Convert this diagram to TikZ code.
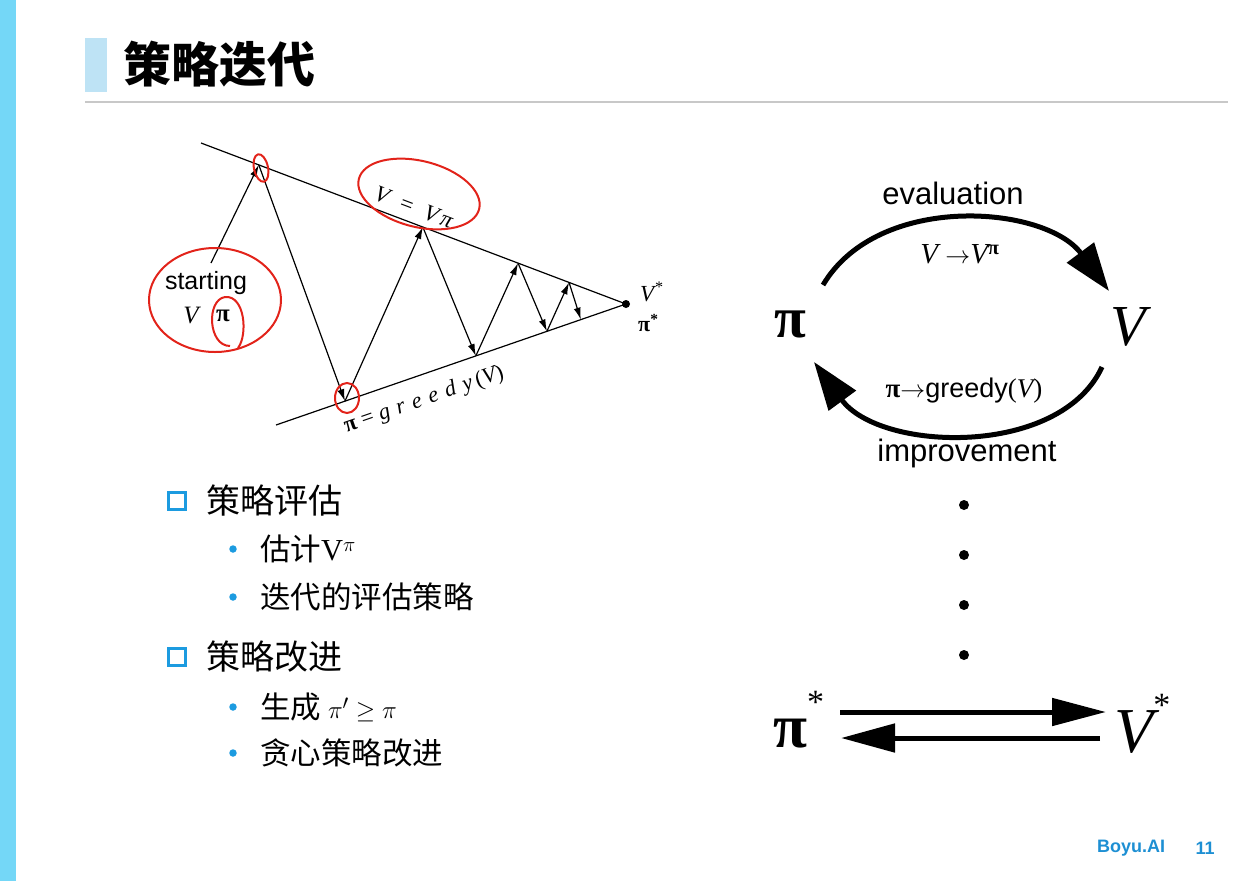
\documentclass[tikz,border=0pt]{standalone}
\usepackage{fontspec}
\setmainfont{Liberation Serif}
\setsansfont{Liberation Sans}
\newfontfamily\cjk{Noto Sans CJK SC}
\usetikzlibrary{arrows.meta,positioning,calc}
\definecolor{sidebar}{HTML}{74D7F7}
\definecolor{tab}{HTML}{BEE3F5}
\definecolor{rule}{HTML}{C8C8C8}
\definecolor{accent}{HTML}{1C9BE0}
\definecolor{brand}{HTML}{1D8FD3}
\definecolor{pen}{HTML}{E2231A}
\newcommand{\fsz}[1]{\fontsize{#1}{#1}\selectfont}
\newcommand{\bigstar}[1]{\raisebox{#1}{\upshape\mdseries\fsz{34}*}}
\tikzset{
  every node/.style={inner sep=0pt},
  heading/.style={font=\cjk\bfseries\fsz{48},anchor=west},
  item/.style={font=\cjk\fsz{34},anchor=west},
  subitem/.style={font=\cjk\fsz{30.5},anchor=west},
  boxbullet/.style={draw=accent,line width=3.5pt,minimum size=17pt,fill=white},
  dotbullet/.style={circle,fill=accent,minimum size=7.5pt},
  sanslabel/.style={font=\sffamily\fsz{31}},
  mathlabel/.style={font=\rmfamily\fsz{28}},
  greek/.style={font=\rmfamily\bfseries\fsz{58}},
  small/.style={font=\rmfamily\fsz{25}},
  guide/.style={line width=1.2pt,draw=black},
  hop/.style={guide,-{Latex[length=12pt,width=7pt]}},
  redpen/.style={draw=pen,line width=2pt},
  bigarrow/.style={line width=5pt,draw=black,-{Triangle[length=48pt,width=30pt]}},
  footer/.style={font=\sffamily\bfseries\fsz{18},text=brand}
}
\begin{document}
\begin{tikzpicture}[x=1pt,y=-1pt]
\useasboundingbox (0,0) rectangle (1250,881);
\fill[sidebar] (0,0) rectangle (16,881);
\fill[tab] (85,38) rectangle (107,92);
\node[heading] (title) at (123,64) {策略迭代};
\draw[rule,line width=1.5pt] (85,102) -- (1228,102);

\coordinate (top) at (201,143);
\coordinate (bot) at (276,425);
\coordinate (lim) at (626,304);
\draw[guide] (top) -- node[pos=0.488,sloped,above=7pt,font=\rmfamily\itshape\fsz{23}] (vlabel) {V\enspace=\enspace V\,π} (lim);
\draw[guide] (bot) -- node[pos=0.40,sloped,below=14pt,font=\rmfamily\fsz{22.5}] (glabel) {\bfseries π\mdseries{} = \itshape g\,\,r\,\,e\,\,e\,\,d\,\,y\,\upshape(\itshape V\upshape)} (lim);
\fill (lim) circle (4);
\coordinate (t1) at ($(top)!0.136!(lim)$);
\coordinate (t2) at ($(top)!0.522!(lim)$);
\coordinate (t3) at ($(top)!0.746!(lim)$);
\coordinate (t4) at ($(top)!0.866!(lim)$);
\coordinate (b1) at ($(bot)!0.197!(lim)$);
\coordinate (b2) at ($(bot)!0.571!(lim)$);
\coordinate (b3) at ($(bot)!0.774!(lim)$);
\coordinate (b4) at ($(bot)!0.871!(lim)$);
\coordinate (kick) at (211,263);
\foreach \a/\b in {kick/t1,t1/b1,b1/t2,t2/b2,b2/t3,t3/b3,b3/t4,t4/b4}
  \draw[hop] (\a) -- (\b);

\node[font=\sffamily\fsz{25}] (start) at (206,283) {starting};
\node[small,font=\rmfamily\itshape\fsz{25}] (v0) at (191,315) {V};
\node[small,font=\rmfamily\bfseries\fsz{25}] (p0) at (223,316) {π};
\node[small,font=\rmfamily\itshape\fsz{23},anchor=west] (vlim) at (640,292) {V\textsuperscript{*}};
\node[small,font=\rmfamily\bfseries\fsz{22},anchor=west] (plim) at (638,323) {π\textsuperscript{*}};

\draw[redpen,shift={(261,168)},rotate=12] (0,0) ellipse [x radius=7,y radius=14];
\draw[redpen,shift={(419,194)},rotate=-14] (0,0) ellipse [x radius=62,y radius=33];
\draw[redpen] (215,300) ellipse [x radius=66,y radius=52];
\draw[redpen] (230,346) .. controls (208,346) and (206,300) .. (225,297) .. controls (245,295) and (248,335) .. (238,348);
\draw[redpen] (347,398) ellipse [x radius=12,y radius=15];

\node[greek] (pi) at (790,324) {π};
\node[greek,font=\rmfamily\itshape\fsz{58}] (vv) at (1128,327) {V};
\node[sanslabel] (evaltext) at (953,193) {evaluation};
\node[mathlabel,font=\rmfamily\fsz{29}] (evalmath) at (960,254) {\itshape V \upshape$\rightarrow$\itshape V\upshape\textsuperscript{\bfseries π}};
\node[mathlabel,font=\rmfamily\fsz{27}] (impmath) at (964,391) {\bfseries π\mdseries$\rightarrow$\sffamily greedy\rmfamily(\itshape V\upshape)};
\node[sanslabel] (imptext) at (967,453) {improvement};
\coordinate (evalA) at (823,285);
\coordinate (evalB) at (1109,291);
\coordinate (impA) at (1102,367);
\coordinate (impB) at (814,362);
\draw[bigarrow,-{Triangle[length=48pt,width=33pt]}] (evalA) .. controls (878,192) and (1045,205) .. (evalB);
\draw[bigarrow,-{Triangle[length=48pt,width=33pt]}] (impA) .. controls (1060,458) and (880,452) .. (impB);

\foreach \y in {505,555,605,655}
  \fill (964,\y) circle (5);

\node[greek,font=\rmfamily\bfseries\fsz{62},anchor=base west] (pistar) at (773,747) {π\bigstar{34pt}};
\node[greek,font=\rmfamily\itshape\fsz{64},anchor=base west] (vstar) at (1114,752) {V\bigstar{36pt}};
\coordinate (fwdA) at (840,712);
\coordinate (fwdB) at (1106,712);
\coordinate (backA) at (1100,738);
\coordinate (backB) at (841,738);
\draw[bigarrow,-{Triangle[length=54pt,width=27pt]}] (fwdA) -- (fwdB);
\draw[bigarrow,-{Triangle[length=54pt,width=28pt]}] (backA) -- (backB);

\node[boxbullet] (box1) at (177,501) {};
\node[item,right=19pt of box1] (evalitem) {策略评估};
\node[dotbullet] (dot1) at (233,549) {};
\node[subitem] (dot1text) at (260,549) {估计$\mathrm{V}^{\pi}$};
\node[dotbullet] (dot2) at (233,597) {};
\node[subitem] (dot2text) at (260,597) {迭代的评估策略};
\node[boxbullet] (box2) at (177,657) {};
\node[item,right=19pt of box2] (impitem) {策略改进};
\node[dotbullet] (dot3) at (233,707) {};
\node[subitem] (dot3text) at (260,707) {生成 $\pi' \geq \pi$};
\node[dotbullet] (dot4) at (233,753) {};
\node[subitem] (dot4text) at (260,753) {贪心策略改进};

\node[footer,anchor=west] (brand) at (1097,848) {Boyu.AI};
\node[footer] (page) at (1205,848) {11};
\end{tikzpicture}
\end{document}
